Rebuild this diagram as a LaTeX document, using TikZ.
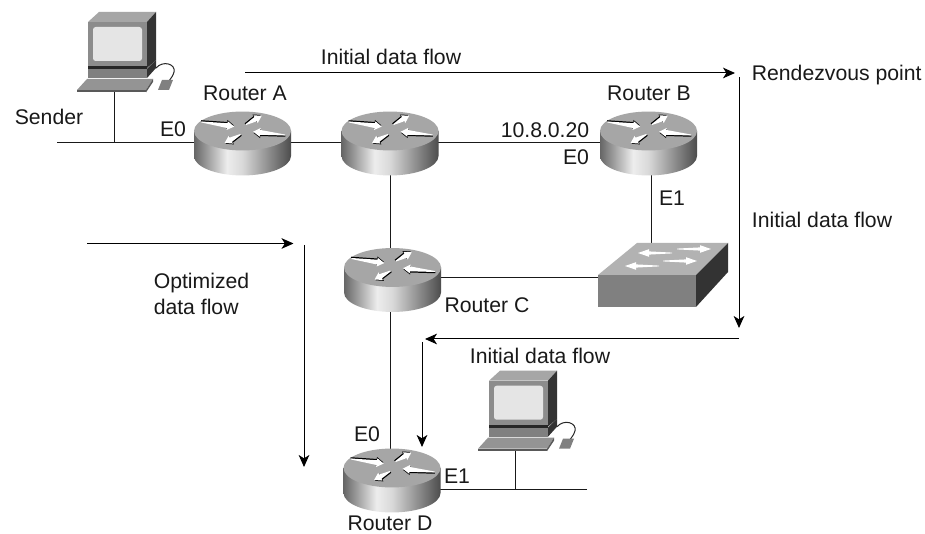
\documentclass[tikz,border=0pt]{standalone}
\usepackage{fontspec}
\setmainfont{Liberation Sans}
\usetikzlibrary{arrows.meta}
\pgfdeclarehorizontalshading{rside}{100bp}{color(0bp)=(black!60); color(25bp)=(black!60); color(42bp)=(black!7); color(50bp)=(black!15); color(75bp)=(black!70); color(100bp)=(black!70)}
\newcommand{\flowar}[4]{%
  \begin{scope}[shift={(#1,#2)},rotate=#3]
    \fill[black,shift={(-0.5,-1.2)}] (0,-0.5) -- (#4-7,-2.4) -- (#4-7,-4.4) -- (#4,0) -- (#4-7,4.4) -- (#4-7,2.4) -- (0,0.5) -- cycle;
    \fill[white] (0,-0.5) -- (#4-7,-2.4) -- (#4-7,-4.4) -- (#4,0) -- (#4-7,4.4) -- (#4-7,2.4) -- (0,0.5) -- cycle;
  \end{scope}}
\newcommand{\swar}[4]{%
  \begin{scope}[shift={(#1,#2)},rotate=#3]
    \fill[white] (0,-0.4) -- (#4-11,-1.6) -- (#4-11,-3.8) -- (#4,0) -- (#4-11,3.8) -- (#4-11,1.6) -- (0,0.4) -- cycle;
  \end{scope}}
\tikzset{
  x=0.75pt,y=-0.75pt,
  lbl/.style={font=\fontsize{15.9pt}{19pt}\selectfont,inner sep=0pt,text=black!90},
  routerbox/.style={rectangle,inner sep=0pt,minimum width=72.75pt,minimum height=48.75pt},
  switchbox/.style={rectangle,inner sep=0pt,minimum width=97.5pt,minimum height=52.5pt},
  wire/.style={draw=black!90,line width=0.75pt},
  flow/.style={draw=black,line width=0.75pt,-{Stealth[length=9pt,width=8pt,inset=2.5pt]}},
  router/.pic={
    \shade[shading=rside] (-48.5,-12) -- (-48.5,13) arc[start angle=180,end angle=360,x radius=36.375pt,y radius=14.6pt] -- (48.5,-12) -- cycle;
    \fill[black!35] (0,-12) ellipse[x radius=36.375pt,y radius=14.6pt];
    \flowar{-41}{-21}{-8}{33}
    \flowar{3.5}{-18.5}{29}{18}
    \flowar{42.5}{-8}{174}{32}
    \flowar{-2}{-8.5}{208}{18}
  },
  pcicon/.pic={
    \begin{scope}[shift={(-114,-92)}]
      \draw[black!85,line width=0.75pt] (156,68) .. controls (163,60) and (176,64) .. (174,72) .. controls (173,76) and (171,78) .. (169,81);
      \fill[black!35] (88,22) -- (99,12) -- (156,12) -- (147,22) -- cycle;
      \fill[black!80] (147,22) -- (156,12) -- (156,60) -- (147,68) -- cycle;
      \fill[black!45] (88,22) rectangle (147,66);
      \fill[black!10,rounded corners=2pt] (93,27) rectangle (142,61);
      \fill[black!85] (88,66) rectangle (147,69);
      \fill[black!50] (88,69) rectangle (147,78);
      \fill[black!80] (147,69) -- (156,60) -- (156,68) -- (147,78) -- cycle;
      \fill[black!42] (77,90) -- (87,79) -- (153,79) -- (146,90) -- cycle;
      \fill[black!65] (77,90) rectangle (146,92.5);
      \fill[black!65] (146,92.5) -- (146,90) -- (153,79) -- (153,82) -- cycle;
      \fill[black!50] (158,90) -- (162,80) -- (173,80) -- (169,90) -- cycle;
    \end{scope}
  },
  switchicon/.pic={
    \begin{scope}[shift={(-663,-278)}]
      \fill[black!30] (598,275) -- (637,243) -- (728,243) -- (696,275) -- cycle;
      \fill[black!50] (598,275) rectangle (696,307);
      \fill[black!80] (696,275) -- (728,243) -- (728,272) -- (696,307) -- cycle;
      \swar{672}{253}{180}{34}
      \swar{677}{249}{0}{34}
      \swar{659}{266}{180}{34}
      \swar{663}{261}{0}{34}
    \end{scope}
  }
}
\begin{document}
\begin{tikzpicture}
\useasboundingbox (0,0) rectangle (925,534);
\fill[white] (0,0) rectangle (925,534);
% layout nodes
\node[routerbox] (ra) at (242.5,143) {};
\node[routerbox] (rm) at (390,143) {};
\node[routerbox] (rb) at (648.5,143) {};
\node[routerbox] (rc) at (392.5,279.5) {};
\node[routerbox] (rd) at (392,480) {};
\node[switchbox] (sw) at (663,278) {};
\coordinate (pca) at (114,92);
\coordinate (pcd) at (515,450.7);
\coordinate (lanw) at (57,143);
\coordinate (lane) at (587,490);
% connectors
\draw[wire] (lanw) -- (ra.center);
\draw[wire] (pca) -- (pca |- lanw);
\draw[wire] (ra.center) -- (rm.center);
\draw[wire] (rm.center) -- (rb.center);
\draw[wire] (rm.center) -- (rm.center |- rc.center);
\draw[wire] (rm.center |- rc.center) -- (rm.center |- rd.center);
\draw[wire] ([xshift=1.9pt]rb.center) -- ([xshift=1.9pt]rb.center |- sw.north);
\draw[wire] (sw.west) -- (sw.west -| rc.center);
\draw[wire] (lane) -- (lane -| rd.center);
\draw[wire] (pcd) -- (pcd |- lane);
% icons
\pic at (ra) {router};
\pic at (rm) {router};
\pic at (rb) {router};
\pic at (rc) {router};
\pic at (rd) {router};
\pic at (sw) {switchicon};
\pic at (pca) {pcicon};
\pic at (pcd) {pcicon};
% flow arrows
\coordinate (f1a) at (245,73); \coordinate (f1b) at (735,73);
\coordinate (f2a) at (739,77); \coordinate (f2b) at (739,328);
\coordinate (f3a) at (739,339); \coordinate (f3b) at (425,339);
\coordinate (f4a) at (422,342); \coordinate (f4b) at (422,447);
\coordinate (f5a) at (87,243.5); \coordinate (f5b) at (293.5,243.5);
\coordinate (f6a) at (304,245); \coordinate (f6b) at (304,467);
\draw[flow] (f1a) -- (f1b);
\draw[flow] (f2a) -- (f2b);
\draw[flow] (f3a) -- (f3b);
\draw[flow] (f4a) -- (f4b);
\draw[flow] (f5a) -- (f5b);
\draw[flow] (f6a) -- (f6b);
% labels
\node[lbl] (t1) at (245,93) {Router A};
\node[lbl] (t2) at (49,117) {Sender};
\node[lbl] (t3) at (173,129) {E0};
\node[lbl] (t4) at (391,57) {Initial data flow};
\node[lbl] (t5) at (836.7,75) {Rendezvous point};
\node[lbl] (t6) at (649,93) {Router B};
\node[lbl] (t7) at (545,130) {10.8.0.20};
\node[lbl] (t8) at (576,157) {E0};
\node[lbl] (t9) at (672,198) {E1};
\node[lbl] (t10) at (822,220) {Initial data flow};
\node[lbl] (t11) at (487,305) {Router C};
\node[lbl,anchor=west] (t12) at (153.5,282.7) {Optimized};
\node[lbl,anchor=west] (t13) at (153.5,307) {data flow};
\node[lbl] (t14) at (540,356) {Initial data flow};
\node[lbl] (t15) at (367,434) {E0};
\node[lbl] (t16) at (457,476) {E1};
\node[lbl] (t17) at (390,523.5) {Router D};
\end{tikzpicture}
\end{document}
